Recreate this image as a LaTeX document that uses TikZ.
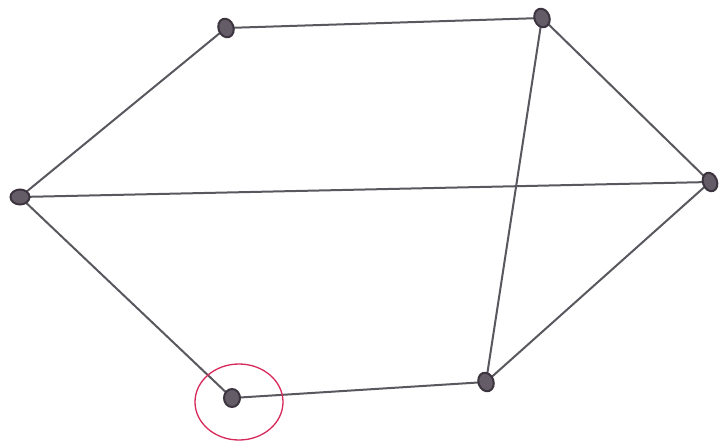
\documentclass[tikz,border=0pt]{standalone}
\usetikzlibrary{shapes.geometric}
\definecolor{vline}{RGB}{60,52,62}
\definecolor{vfill}{RGB}{100,92,102}
\definecolor{eline}{RGB}{90,88,94}
\definecolor{redc}{RGB}{215,40,90}
\begin{document}
\begin{tikzpicture}[x=1pt,y=-1pt,
  vtx/.style={ellipse,draw=vline,fill=vfill,line width=2pt,minimum width=15pt,minimum height=19pt,inner sep=0pt},
  edge/.style={draw=eline,line width=2pt,line cap=round}]
\fill[white] (0,0) rectangle (719,444);
\useasboundingbox (0,0) rectangle (719,444);
\coordinate (A) at (226,28);
\coordinate (B) at (542,18);
\coordinate (C) at (20,197);
\coordinate (D) at (710,182);
\coordinate (E) at (232,398);
\coordinate (F) at (486,382);
\draw[edge] (A) -- (B);
\draw[edge] (A) -- (C);
\draw[edge] (B) -- (D);
\draw[edge] (B) -- (F);
\draw[edge] (C) -- (D);
\draw[edge] (C) -- (E);
\draw[edge] (E) -- (F);
\draw[edge] (F) -- (D);
\node[vtx,rotate=20] (nA) at (A) {};
\node[vtx,rotate=20] (nB) at (B) {};
\node[vtx,minimum width=19pt,minimum height=15pt] (nC) at (C) {};
\node[vtx,minimum width=14pt,rotate=20] (nD) at (D) {};
\node[vtx,minimum width=16pt,minimum height=18pt] (nE) at (E) {};
\node[vtx,rotate=20] (nF) at (F) {};
\node[draw=redc,line width=1.3pt,ellipse,minimum width=88pt,minimum height=76pt,inner sep=0pt] (ring) at (239,402) {};
\end{tikzpicture}
\end{document}
